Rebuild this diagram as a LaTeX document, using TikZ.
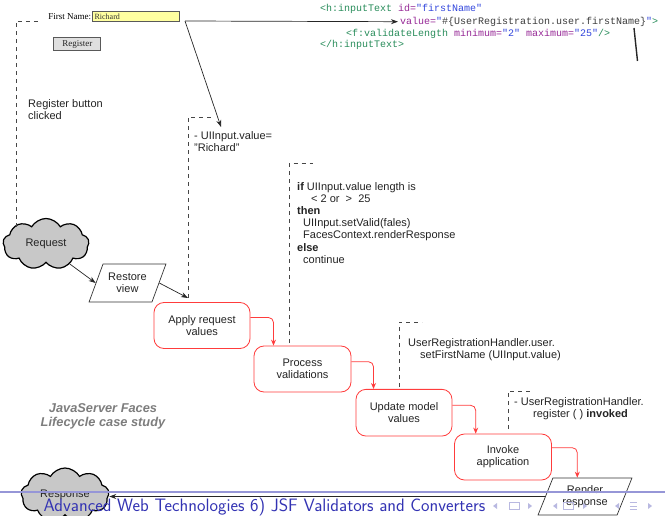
\documentclass[tikz,border=0pt]{standalone}
\usepackage{fontspec}
\setmainfont{Liberation Sans}
\newfontfamily\codefont{Liberation Mono}
\newfontfamily\formfont{Liberation Serif}
\usetikzlibrary{shapes.symbols,shapes.geometric,arrows.meta}

\definecolor{txt}{RGB}{35,35,35}
\definecolor{boxred}{RGB}{255,60,60}
\definecolor{dashgray}{RGB}{70,70,70}
\definecolor{cloudgray}{RGB}{200,200,200}
\definecolor{fieldyellow}{RGB}{255,255,160}
\definecolor{codetag}{RGB}{40,140,90}
\definecolor{codeattr}{RGB}{150,40,150}
\definecolor{codeval}{RGB}{50,70,220}
\definecolor{codeel}{RGB}{60,60,60}
\definecolor{captiongray}{RGB}{125,125,125}
\definecolor{footblue}{RGB}{51,51,179}
\definecolor{footline}{RGB}{150,150,215}
\definecolor{navblue}{RGB}{185,185,225}

\begin{document}
\begin{tikzpicture}[x=1pt,y=-1pt,
  every node/.style={inner sep=0pt, text=txt, font=\fontsize{11}{12.2}\selectfont},
  phase/.style={draw=boxred, line width=0.8pt, rounded corners=10pt,
    minimum width=96pt, minimum height=46pt, align=center},
  cloudnode/.style={cloud, cloud puffs=9, cloud puff arc=120, aspect=1.7,
    draw=black, line width=1.2pt, fill=cloudgray, minimum width=86pt, minimum height=51pt},
  para/.style={trapezium, trapezium stretches=true, draw=black!80, line width=0.7pt,
    align=center},
  note/.style={anchor=north west, align=left},
  code/.style={anchor=west, font=\codefont\fontsize{10}{11}\selectfont,
    text height=7.5pt, text depth=2pt},
  blackarrow/.style={draw=black!85, line width=0.7pt, -{Stealth[length=7pt,width=5pt]}},
  redarrow/.style={draw=boxred, line width=0.8pt, rounded corners=5pt,
    -{Stealth[length=6pt,width=5pt]}},
  dashline/.style={draw=dashgray, line width=0.6pt, dash pattern=on 4pt off 4pt},
  navsym/.style={fill=navblue, draw=none},
  navline/.style={draw=navblue, line width=0.8pt}
]
\useasboundingbox (0,0) rectangle (665,516);

% ---- the web form ----
\node[draw=gray!70!black, fill=fieldyellow, line width=0.6pt,
      minimum width=86.6pt, minimum height=10pt] (field) at (136,16.7) {};
\node[anchor=west, font=\formfont\fontsize{8}{9}\selectfont, text=black!80]
      (fieldtext) at ([xshift=2pt]field.west) {Richard};
\node[anchor=east, font=\formfont\fontsize{9}{10}\selectfont, text=black]
      (fnlabel) at ([xshift=-1pt]field.west) {First Name:};
\node[draw=black!65, fill=gray!25, line width=1pt, minimum width=46.7pt,
      minimum height=13.4pt, font=\formfont\fontsize{9}{10}\selectfont]
      (regbtn) at (77.3,44) {Register};

% ---- JSF source ----
\node[code] (c1) at (320,8.3) {\textcolor{codetag}{<h:inputText} \textcolor{codeattr}{id=}\textcolor{codeval}{"firstName"}};
\node[code] (c2) at (400,21.7) {\textcolor{codeattr}{value=}\textcolor{codeval}{"}\textcolor{codeel}{\#\{UserRegistration.user.firstName\}}\textcolor{codeval}{"}\textcolor{codetag}{>}};
\node[code] (c3) at (346,33.3) {\textcolor{codetag}{<f:validateLength} \textcolor{codeattr}{minimum=}\textcolor{codeval}{"2"} \textcolor{codeattr}{maximum=}\textcolor{codeval}{"25"}\textcolor{codetag}{/>}};
\node[code] (c4) at (320,45) {\textcolor{codetag}{</h:inputText>}};
\draw[line width=1.4pt, black!85] (634,28) -- (637.5,61);

% ---- notes ----
\node[note] (clicked) at (28,99) {Register button\\clicked};
\node[note] (uitext) at (194,131) {- UIInput.value=\\"Richard"};
\node[note] (valtext) at (297,182) {\textbf{if} UIInput.value length is\\
  \hspace*{14pt}< 2 or\ \ >\ \ 25\\
  \textbf{then}\\
  \hspace*{6pt}UIInput.setValid(fales)\\
  \hspace*{6pt}FacesContext.renderResponse\\
  \textbf{else}\\
  \hspace*{6pt}continue};
\node[note] (updtext) at (408,338) {UserRegistrationHandler.user.\\
  \hspace*{12pt}setFirstName (UIInput.value)};
\node[note] (invtext) at (514,397) {- UserRegistrationHandler.\\
  \hspace*{19pt}register ( ) \textbf{invoked}};
\node[align=center, font=\bfseries\itshape\fontsize{12.8}{14}\selectfont, text=captiongray]
  (caption) at (103,416) {JavaServer Faces\\Lifecycle case study};

% ---- lifecycle phases ----
\node[cloudnode] (req) at (46,244) {Request};
\node[para, trapezium left angle=61, trapezium right angle=119,
      minimum width=77pt, minimum height=38pt] (rv) at (127.5,283) {Restore\\view};
\node[phase] (apply) at (202,325.5) {Apply request\\values};
\node[phase, minimum width=97pt] (proc) at (302.5,369) {Process\\validations};
\node[phase, minimum height=46.7pt] (upd) at (404,412.7) {Update model\\values};
\node[phase, minimum width=97pt] (inv) at (503,457) {Invoke\\application};
\node[para, trapezium left angle=65, trapezium right angle=115,
      minimum width=94pt, minimum height=37pt] (render) at (585,496.5) {Render\\response};
\node[cloudnode, minimum width=88pt, minimum height=54pt] (resp) at (65,495) {Response};

% ---- free ends ----
\coordinate (fieldout) at (185,21);
\coordinate (uitip) at (221,127);
\coordinate (uimark) at (188,298);

% ---- connectors ----
\draw[blackarrow] (fieldout) -- ([xshift=-2pt]c2.west);
\draw[blackarrow] (fieldout) -- (uitip);
\draw[blackarrow] (req.-40) -- (rv.west);
\draw[blackarrow] (rv.east) -- (uimark);
\draw[redarrow] ([yshift=8pt]apply.east) -| ([xshift=-29pt]proc.north);
\draw[redarrow] ([yshift=7.3pt]proc.east) -| ([xshift=-30.5pt]upd.north);
\draw[redarrow] ([yshift=7.4pt]upd.east) -| ([xshift=-27.3pt]inv.north);
\draw[redarrow] ([yshift=9.3pt]inv.east) -| ([xshift=-7.7pt]render.north);
\draw[blackarrow] (render.west) -- (render.west -| resp.east);

% ---- dashed brackets ----
\draw[dashline] (16,227) -- (16,21) -- (40,21);
\draw[dashline] (uimark) -- (188,117) -- (212,117);
\draw[dashline] (289.5,343) -- (289.5,163) -- (313,163);
\draw[dashline] (399,387) -- (399,322) -- (422,322);
\draw[dashline] (508,429) -- (508,391) -- (530,391);

% ---- slide footer ----
\fill[footline] (0,491.3) rectangle (665,493.3);
\node[anchor=base west, font=\sffamily\fontsize{18}{20}\selectfont, text=footblue]
  (foot) at (43.5,511.7) {Advanced Web Technologies 6) JSF Validators and Converters};
% navigation symbols
\fill[navsym] (497,503) -- (493,506) -- (497,509) -- cycle;
\draw[navline] (509,502.7) rectangle (519.5,509.3);
\fill[navsym] (528,503) -- (532,506) -- (528,509) -- cycle;
\fill[navsym] (557,503) -- (553,506) -- (557,509) -- cycle;
\draw[navline] (563,502.7) rectangle (573.5,509.3);
\fill[navsym] (583,503) -- (587,506) -- (583,509) -- cycle;
\fill[navsym] (619,503) -- (615,506) -- (619,509) -- cycle;
\draw[navline] (629.5,502.5) -- (637,502.5) (629.5,506) -- (637,506) (629.5,509.5) -- (637,509.5);
\fill[navsym] (648,503) -- (652,506) -- (648,509) -- cycle;
\end{tikzpicture}
\end{document}
